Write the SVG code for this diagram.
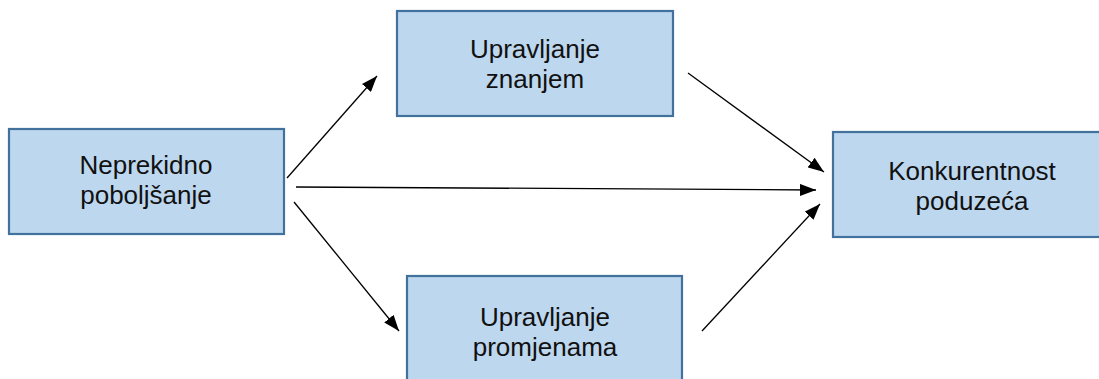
<svg xmlns="http://www.w3.org/2000/svg" width="1099" height="379" viewBox="0 0 1099 379">
<style>
.box{fill:#BDD7EE;stroke:#41719C;stroke-width:2.2}
.t{font-family:"Liberation Sans",Arial,sans-serif;font-size:26px;fill:#111;text-anchor:middle}
.c{stroke:#000;stroke-width:1.3;fill:none;marker-end:url(#ah)}
</style>
<defs>
<marker id="ah" viewBox="0 0 16 12" refX="16" refY="6" markerWidth="16" markerHeight="12" markerUnits="userSpaceOnUse" orient="auto">
<path d="M0,0 L16,6 L0,12 Z" fill="#000"/>
</marker>
</defs>
<rect width="1099" height="379" fill="#fff"/>
<g id="n1"><rect class="box" x="9" y="129" width="275" height="105"/>
<text class="t" x="146" y="174">Neprekidno</text><text class="t" x="146" y="204">poboljšanje</text></g>
<g id="n2"><rect class="box" x="397" y="11" width="276" height="105"/>
<text class="t" x="535" y="58">Upravljanje</text><text class="t" x="535" y="88">znanjem</text></g>
<g id="n3"><rect class="box" x="833" y="132" width="280" height="105"/>
<text class="t" x="972" y="180">Konkurentnost</text><text class="t" x="972" y="210">poduzeća</text></g>
<g id="n4"><rect class="box" x="407" y="276" width="275" height="115"/>
<text class="t" x="545" y="326">Upravljanje</text><text class="t" x="545" y="356">promjenama</text></g>
<g id="connectors">
<line class="c" x1="287" y1="178" x2="377" y2="76"/>
<line class="c" x1="296" y1="187" x2="816" y2="190"/>
<line class="c" x1="294" y1="202" x2="399" y2="331"/>
<line class="c" x1="688" y1="73" x2="824" y2="172"/>
<line class="c" x1="702" y1="331" x2="820" y2="204"/>
</g>
</svg>
